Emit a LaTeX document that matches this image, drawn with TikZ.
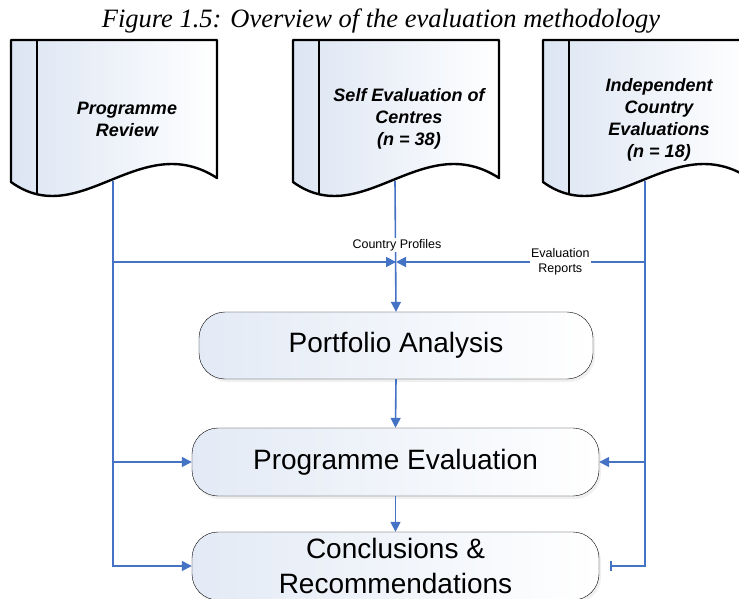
\documentclass[tikz,border=0pt]{standalone}
\usepackage{fontspec}
\setmainfont{Liberation Sans}
\newfontfamily\captionfont{Liberation Serif}
\usetikzlibrary{arrows.meta, shadows}

\definecolor{linkblue}{RGB}{68,114,196}
\definecolor{paleblue}{RGB}{220,229,243}

\tikzset{
    doc/.style={line width=2.4pt, line join=round, left color=paleblue, right color=white},
    doctext/.style={font=\fontsize{18}{22}\selectfont\bfseries\itshape, align=center},
    process/.style={draw, thin, rounded corners=26pt, inner sep=2pt, align=center,
        left color=paleblue!80, right color=white,
        drop shadow={shadow xshift=2pt, shadow yshift=-3pt, opacity=.12},
        font=\fontsize{28}{35}\selectfont},
    link/.style={linkblue, line width=1.6pt},
    flow/.style={link, -{Triangle[length=10pt, width=10pt]}},
    tag/.style={font=\fontsize{12.5}{15}\selectfont, align=center, text=black, fill=white, inner sep=1pt}
}

\begin{document}
\begin{tikzpicture}[x=1pt, y=-1pt]

    % Page size
    \def\w{739}
    \def\h{599}
    \def\doctop{40}     % top of the documents
    \def\docw{206}      % width of a document
    \def\band{26}       % left band of a document
    \def\outx{102}      % outlet of a document, from its left side

    \useasboundingbox (0,0) rectangle (\w,\h);
    \clip (0,0) rectangle (\w,\h);

    % Caption
    \node[font=\captionfont\itshape\fontsize{26.5}{30}\selectfont, anchor=base] (title) at (381,28) {Figure 1.5: Overview of the evaluation methodology};

    % Documents
    \foreach \l in {11, 293, 543}{
        \draw[doc] (\l,\doctop) -- (\l+\docw,\doctop) -- (\l+\docw,178)
            .. controls (\l+129,128) and (\l+69,232) .. (\l,182) -- cycle;
        \draw[line width=2.4pt] (\l+\band,\doctop) -- (\l+\band,194);
    }
    \node[doctext] (review) at (127,119) {Programme\\Review};
    \node[doctext] (selfeval) at (409,119) {Self Evaluation of\\Centres\\(n = 38)};
    \node[doctext] (indep) at (659,120) {Independent\\Country\\Evaluations\\(n = 18)};

    % Process steps
    \node[process, minimum width=394, minimum height=67] (pa) at (396,345.5) {Portfolio Analysis};
    \node[process, minimum width=407, minimum height=68] (pe) at (395.5,462) {Programme Evaluation};
    \node[process, minimum width=407, minimum height=68] (cr) at (395.5,566) {Conclusions \&\\Recommendations};

    % Outlets and junction
    \coordinate (revout) at (11+\outx,181);
    \coordinate (selfout) at (293+\outx,181);
    \coordinate (indout) at (543+\outx,181);
    \coordinate (hub) at (pa.north |- 0,262);
    \coordinate (crbar) at ([xshift=11pt]cr.east);

    % Left feed
    \draw[flow] (revout) |- (cr.west);
    \draw[flow] (revout |- hub) -- (hub);
    \draw[flow] (revout |- pe.west) -- (pe.west);

    % Right feed
    \draw[link, -{Bar[width=10pt]}] (indout) |- (crbar);
    \draw[flow] (indout |- hub) -- node[tag, pos=.34] (reports) {Evaluation\\Reports} (hub);
    \draw[flow] (indout |- pe.east) -- (pe.east);

    % Centre
    \draw[flow] (selfout) -- (pa.north);
    \node[tag] (profiles) at (397,245) {Country Profiles};
    \draw[flow] (pa.south) -- (pe.north);
    \draw[flow] (pe.south) -- (cr.north);

\end{tikzpicture}
\end{document}
